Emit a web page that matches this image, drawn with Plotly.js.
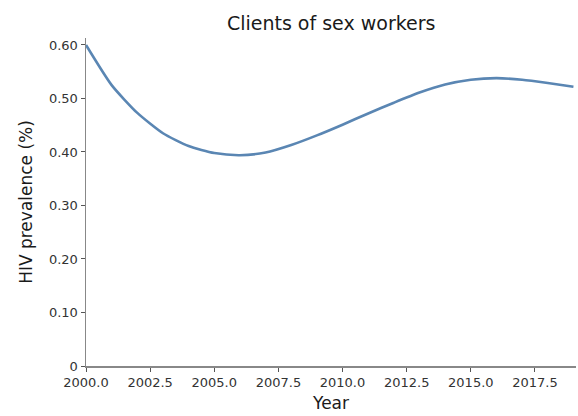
<!DOCTYPE html>
<html>
<head>
<meta charset="utf-8">
<script src="https://cdn.plot.ly/plotly-3.0.1.min.js"></script>
<style>html,body{margin:0;padding:0;background:#fff;}#chart{width:578px;height:416px;}</style>
</head>
<body>
<div id="chart"></div>
<script>
const years = [2000,2001,2002,2003,2004,2005,2006,2007,2008,2009,2010,2011,2012,2013,2014,2015,2016,2017,2018,2019];
const prevalence = [0.600,0.525,0.473,0.435,0.411,0.398,0.394,0.399,0.413,0.431,0.451,0.472,0.492,0.511,0.526,0.535,0.538,0.535,0.529,0.522];
const yTickVals = [0,0.1,0.2,0.3,0.4,0.5,0.6];
const yTickText = ["0","0.10","0.20","0.30","0.40","0.50","0.60"];
const xTickVals = [2000,2002.5,2005,2007.5,2010,2012.5,2015,2017.5];
const xTickText = ["2000.0","2002.5","2005.0","2007.5","2010.0","2012.5","2015.0","2017.5"];

const font = "DejaVu Sans, sans-serif";
Plotly.newPlot('chart', [{
  x: years, y: prevalence, type: 'scatter', mode: 'lines',
  line: {color: '#5a86b3', width: 2.6, shape: 'spline', smoothing: 0.6},
  hoverinfo: 'skip'
}], {
  width: 578, height: 416,
  margin: {l: 86, r: 2, t: 38, b: 50},
  paper_bgcolor: '#fff', plot_bgcolor: '#fff',
  showlegend: false,
  title: {text: 'Clients of sex workers', font: {family: font, size: 19, color: '#1a1a1a'}, x: 0.573, xanchor: 'center', y: 0.945, yanchor: 'middle'},
  xaxis: {
    range: [2000, 2019.1], tickvals: xTickVals, ticktext: xTickText,
    showgrid: false, zeroline: false, showline: true, linecolor: '#888', linewidth: 1.5,
    ticks: 'outside', ticklen: 4, tickcolor: '#555', tickwidth: 1,
    tickfont: {family: font, size: 13, color: '#333'},
    title: {text: 'Year', font: {family: font, size: 17, color: '#1a1a1a'}, standoff: 8}
  },
  yaxis: {
    range: [0, 0.613], tickvals: yTickVals, ticktext: yTickText,
    showgrid: false, zeroline: false, showline: true, linecolor: '#888', linewidth: 1.5,
    ticks: 'outside', ticklen: 4, tickcolor: '#555', tickwidth: 1,
    tickfont: {family: font, size: 13, color: '#333'},
    title: {text: 'HIV prevalence (%)', font: {family: font, size: 17, color: '#1a1a1a'}, standoff: 12}
  }
}, {displayModeBar: false, staticPlot: true});
</script>
</body>
</html>
